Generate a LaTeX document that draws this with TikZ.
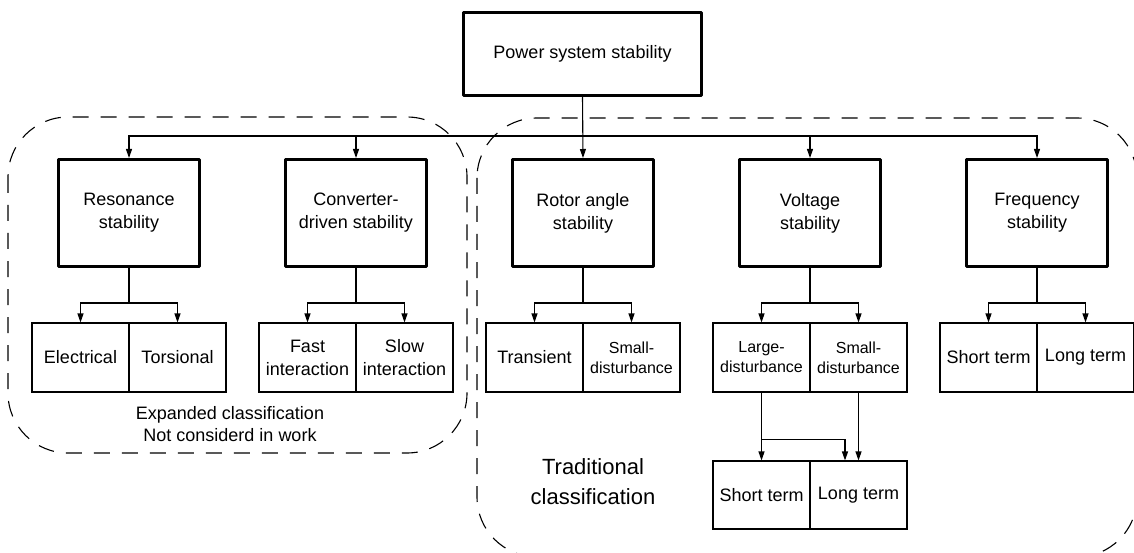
\documentclass[tikz,border=0pt]{standalone}
\usepackage{fontspec}
\setmainfont{Liberation Sans}
\usetikzlibrary{arrows.meta}
\begin{document}
\begin{tikzpicture}[x=1pt,y=-1pt,
  txt/.style={font=\fontsize{18}{23}\selectfont, align=center, inner sep=0pt},
  mainbox/.style={txt, draw, line width=3pt, line join=round, minimum width=141pt, minimum height=107pt},
  topbox/.style={txt, draw, line width=3.5pt, line join=round, minimum width=238pt, minimum height=83pt},
  subbox/.style={txt, draw, line width=1.1pt, minimum width=97pt, minimum height=69pt},
  smalltxt/.style={font=\fontsize{16}{20}\selectfont},
  arr/.style={line width=1.1pt, -{Triangle[length=9pt,width=6pt]}},
  conn/.style={line width=1.1pt},
  group/.style={line width=1.1pt, dash pattern=on 16pt off 12pt, rounded corners=60pt}
]
\clip (0,0) rectangle (1134,553);
% dashed groups
\draw[group] (8,117) rectangle (467,453);
\draw[group] (477,118) rectangle (1137,557);
% top
\node[topbox] (top) at (582.5,54) {Power system stability};
% level 2
\node[mainbox] (res) at (129,213) {Resonance\\stability};
\node[mainbox] (conv) at (356,213) {Converter-\\driven stability};
\node[mainbox] (rotor) at (583,213) {Rotor angle\\stability};
\node[mainbox] (volt) at (810,213) {Voltage\\stability};
\node[mainbox] (freq) at (1037,213) {Frequency\\stability};
% level 3
\node[subbox] (elec) at (80.5,357.5) {Electrical};
\node[subbox] (tors) at (177.5,357.5) {Torsional};
\node[subbox] (fast) at (307.5,357.5) {Fast\\interaction};
\node[subbox] (slow) at (404.5,357.5) {Slow\\interaction};
\node[subbox] (trans) at (534.5,357.5) {Transient};
\node[subbox, smalltxt] (rsmall) at (631.5,357.5) {Small-\\disturbance};
\node[subbox, smalltxt] (large) at (761.5,357.5) {Large-\\disturbance};
\node[subbox, smalltxt] (vsmall) at (858.5,357.5) {Small-\\disturbance};
\node[subbox] (fshort) at (988.5,357.5) {Short term};
\node[subbox] (flong) at (1085.5,357.5) {Long term};
% level 4
\node[subbox, minimum height=68pt] (vshort) at (761.5,495) {Short term};
\node[subbox, minimum height=68pt] (vlong) at (858.5,495) {Long term};
% labels
\node[txt, font=\fontsize{18}{22}\selectfont] (exp) at (230,424) {Expanded classification\\Not considerd in work};
\node[txt, font=\fontsize{22}{30}\selectfont] (trad) at (593,482) {Traditional\\classification};
% connectors level 1-2
\coordinate (bus) at (582.5,136);
\draw[arr] (top.south) -- (rotor.north);
\draw[arr] (bus) -| (res.north);
\draw[arr] (bus) -| (conv.north);
\draw[arr] (bus) -| (volt.north);
\draw[arr] (bus) -| (freq.north);
% level 2-3 forks
\foreach \p/\a/\b in {res/elec/tors, conv/fast/slow, rotor/trans/rsmall, volt/large/vsmall, freq/fshort/flong}{
  \coordinate (f\p) at ([yshift=-35pt]\p.south);
  \draw[conn] (\p.south) -- (f\p);
  \draw[arr] (f\p) -| (\a.north);
  \draw[arr] (f\p) -| (\b.north);
}
% level 3-4
\coordinate (lb) at ([yshift=-47pt]large.south);
\draw[arr] (large.south) -- (vshort.north);
\draw[arr] (lb) -| ([xshift=-13.5pt]vlong.north);
\draw[arr] (vsmall.south) -- (vlong.north);
\end{tikzpicture}
\end{document}
